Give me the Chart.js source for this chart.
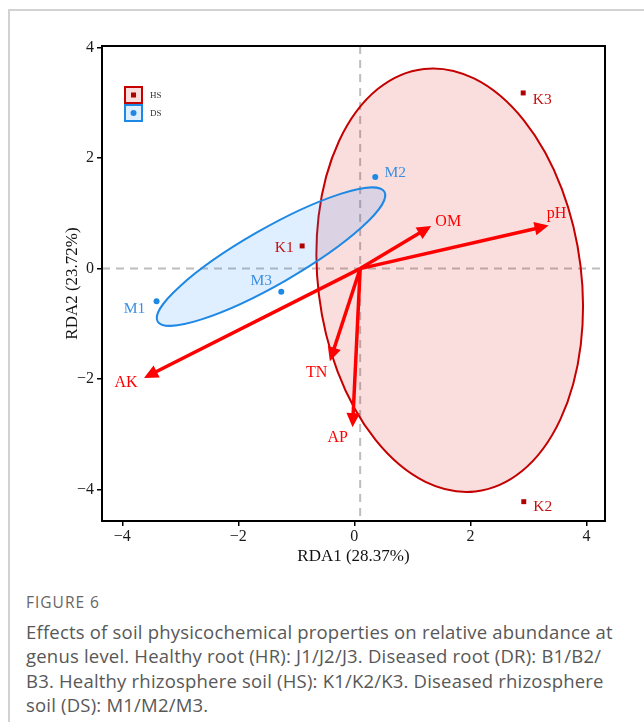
<!DOCTYPE html>
<html>
<head>
<meta charset="utf-8">
<script src="https://cdn.jsdelivr.net/npm/chart.js@4"></script>
<style>
  body { margin: 0; width: 644px; height: 722px; background: #fff; position: relative; overflow: hidden; }
  .frame { position: absolute; left: 8px; top: 9px; right: -4px; bottom: -4px; border-top: 2px solid #d2d2d2; border-left: 2px solid #d2d2d2; }
  #chart { position: absolute; left: 0; top: 0; }
  .fig { position: absolute; left: 26px; top: 592px; font-family: 'Open Sans', sans-serif; font-size: 15.5px; letter-spacing: 1px; line-height: 20px; color: #666; }
  .caption { position: absolute; left: 26px; top: 620px; font-family: 'Open Sans', sans-serif; font-size: 18.5px; letter-spacing: 0.2px; line-height: 24.3px; color: #585858; white-space: nowrap; }
</style>
</head>
<body>
<div class="frame"></div>
<canvas id="chart" width="644" height="580"></canvas>
<div class="fig">FIGURE 6</div>
<div class="caption">Effects of soil physicochemical properties on relative abundance at<br>genus level. Healthy root (HR): J1/J2/J3. Diseased root (DR): B1/B2/<br>B3. Healthy rhizosphere soil (HS): K1/K2/K3. Diseased rhizosphere<br>soil (DS): M1/M2/M3.</div>
<script>
// samples
const hsLabels = ['K1', 'K2', 'K3'];
const hsX = [-0.90, 2.92, 2.91];
const hsY = [0.41, -4.22, 3.18];
const dsLabels = ['M1', 'M2', 'M3'];
const dsX = [-3.41, 0.36, -1.26];
const dsY = [-0.59, 1.66, -0.42];

// environmental vectors
const envNames = ['OM', 'pH', 'TN', 'AP', 'AK'];
const envX = [1.29, 3.31, -0.41, -0.03, -3.59];
const envY = [0.75, 0.77, -1.64, -2.83, -1.96];
const origin = [0.1, 0];

// group ellipses (semi-axes and rotation in data units), HS then DS
const ellipseA = [3.85, 2.28];
const ellipseB = [2.27, 0.50];
const ellipseAngle = [96.6, 31.1];

const xTicks = [-4, -2, 0, 2, 4];
const yTicks = [-4, -2, 0, 2, 4];

const serif = "'Liberation Serif', 'Times New Roman', serif";
const red = '#C40000';
const blue = '#1E88E5';
const arrowRed = '#FF0000';

// label nudges in pixels
const hsNudge = [[-18, 2], [19, 5], [19, 7]];
const dsNudge = [[-22, 8], [20, -4], [-20, -11]];
const envNudge = [[19, -5], [10, -12], [-14, 14], [-15, 13], [-20, 6]];

const fmt = v => (v < 0 ? '\u2212' + Math.abs(v) : String(v));
const mean = a => a.reduce((s, v) => s + v, 0) / a.length;

function arrow(ctx, x0, y0, x1, y1) {
  const ang = Math.atan2(y1 - y0, x1 - x0);
  const head = 12, spread = Math.PI / 7;
  ctx.beginPath();
  ctx.moveTo(x0, y0);
  ctx.lineTo(x1 - Math.cos(ang) * head * 0.7, y1 - Math.sin(ang) * head * 0.7);
  ctx.stroke();
  ctx.beginPath();
  ctx.moveTo(x1, y1);
  ctx.lineTo(x1 - head * Math.cos(ang - spread), y1 - head * Math.sin(ang - spread));
  ctx.lineTo(x1 - head * Math.cos(ang + spread), y1 - head * Math.sin(ang + spread));
  ctx.closePath();
  ctx.fill();
  ctx.lineWidth = 2;
  ctx.stroke();
}

const rdaPlugin = {
  id: 'rda',
  beforeDatasetsDraw(chart) {
    const { ctx, chartArea: a, scales: { x, y } } = chart;
    const kx = x.getPixelForValue(1) - x.getPixelForValue(0);
    const ky = y.getPixelForValue(0) - y.getPixelForValue(1);
    ctx.save();

    // reference lines
    ctx.strokeStyle = '#BDBDBD';
    ctx.lineWidth = 2;
    ctx.setLineDash([8, 6]);
    const ox = x.getPixelForValue(origin[0]);
    const oy = y.getPixelForValue(origin[1]);
    ctx.beginPath();
    ctx.moveTo(ox, a.top); ctx.lineTo(ox, a.bottom);
    ctx.moveTo(a.left, oy); ctx.lineTo(a.right, oy);
    ctx.stroke();
    ctx.setLineDash([]);

    // ellipses around group centroids
    const groups = [
      { xs: hsX, ys: hsY, stroke: red, fill: 'rgba(214, 0, 0, 0.13)' },
      { xs: dsX, ys: dsY, stroke: blue, fill: 'rgba(30, 144, 255, 0.14)' },
    ];
    groups.forEach((g, i) => {
      ctx.save();
      ctx.translate(x.getPixelForValue(mean(g.xs)), y.getPixelForValue(mean(g.ys)));
      ctx.scale(kx, -ky);
      ctx.rotate((ellipseAngle[i] * Math.PI) / 180);
      ctx.scale(ellipseA[i], ellipseB[i]);
      ctx.beginPath();
      ctx.arc(0, 0, 1, 0, Math.PI * 2);
      ctx.restore();
      ctx.fillStyle = g.fill;
      ctx.fill();
      ctx.strokeStyle = g.stroke;
      ctx.lineWidth = 2;
      ctx.stroke();
    });

    // environmental arrows
    ctx.strokeStyle = arrowRed;
    ctx.fillStyle = arrowRed;
    ctx.lineJoin = 'miter';
    ctx.font = '16px ' + serif;
    ctx.textAlign = 'center';
    ctx.textBaseline = 'middle';
    envNames.forEach((n, i) => {
      const tx = x.getPixelForValue(envX[i]);
      const ty = y.getPixelForValue(envY[i]);
      ctx.lineWidth = 3.5;
      arrow(ctx, ox, oy, tx, ty);
      ctx.fillText(n, tx + envNudge[i][0], ty + envNudge[i][1]);
    });
    ctx.restore();
  },
  afterDatasetsDraw(chart) {
    const { ctx, chartArea: a, scales: { x, y } } = chart;
    ctx.save();
    ctx.font = '15.5px ' + serif;
    ctx.textAlign = 'center';
    ctx.textBaseline = 'middle';
    ctx.fillStyle = '#C41010';
    hsLabels.forEach((l, i) => {
      ctx.fillText(l, x.getPixelForValue(hsX[i]) + hsNudge[i][0], y.getPixelForValue(hsY[i]) + hsNudge[i][1]);
    });
    ctx.fillStyle = '#3B8FE0';
    dsLabels.forEach((l, i) => {
      ctx.fillText(l, x.getPixelForValue(dsX[i]) + dsNudge[i][0], y.getPixelForValue(dsY[i]) + dsNudge[i][1]);
    });

    // legend keys
    const lx = a.left + 23, ly = a.top + 41;
    const keys = [
      { text: 'HS', stroke: red, fill: 'rgba(214, 0, 0, 0.13)', mark: 'rect', color: '#B00000' },
      { text: 'DS', stroke: blue, fill: 'rgba(30, 144, 255, 0.14)', mark: 'circle', color: blue },
    ];
    keys.forEach((k, i) => {
      const top = ly + i * 18;
      ctx.fillStyle = k.fill;
      ctx.fillRect(lx, top, 17, 16);
      ctx.strokeStyle = k.stroke;
      ctx.lineWidth = 2;
      ctx.strokeRect(lx, top, 17, 16);
      ctx.fillStyle = k.color;
      if (k.mark === 'rect') ctx.fillRect(lx + 6, top + 5.5, 5, 5);
      else { ctx.beginPath(); ctx.arc(lx + 8.5, top + 8, 3, 0, Math.PI * 2); ctx.fill(); }
      ctx.fillStyle = '#333';
      ctx.font = '9px ' + serif;
      ctx.textAlign = 'left';
      ctx.fillText(k.text, lx + 25, top + 8.5);
    });

    // panel box
    ctx.strokeStyle = '#000';
    ctx.lineWidth = 2;
    ctx.strokeRect(a.left, a.top, a.right - a.left, a.bottom - a.top);
    ctx.restore();
  },
};

window.onload = () => {
  new Chart(document.getElementById('chart'), {
    type: 'scatter',
    data: {
      datasets: [
        {
          label: 'HS',
          data: hsX.map((v, i) => ({ x: v, y: hsY[i] })),
          pointStyle: 'rect',
          pointRadius: 3.5,
          borderWidth: 0,
          backgroundColor: '#B00000',
        },
        {
          label: 'DS',
          data: dsX.map((v, i) => ({ x: v, y: dsY[i] })),
          pointStyle: 'circle',
          pointRadius: 3,
          borderWidth: 0,
          backgroundColor: blue,
        },
      ],
    },
    options: {
      responsive: false,
      devicePixelRatio: 1,
      animation: false,
      layout: { padding: { top: 46, right: 39, left: 50, bottom: 0 } },
      plugins: { legend: { display: false }, tooltip: { enabled: false } },
      scales: {
        x: {
          type: 'linear',
          min: -4.35,
          max: 4.32,
          afterBuildTicks: s => (s.ticks = xTicks.map(v => ({ value: v }))),
          afterFit: s => (s.height = 59),
          grid: { drawOnChartArea: false, drawTicks: true, tickLength: 5, color: '#000', lineWidth: 1.5 },
          border: { display: true, color: '#000', width: 2 },
          ticks: { font: { family: serif, size: 16 }, color: '#1a1a1a', padding: 1, callback: fmt },
          title: {
            display: true,
            text: 'RDA1 (28.37%)',
            font: { family: serif, size: 17 },
            color: '#111',
            padding: { top: 0, bottom: 13 },
          },
        },
        y: {
          type: 'linear',
          min: -4.57,
          max: 4.03,
          afterBuildTicks: s => (s.ticks = yTicks.map(v => ({ value: v }))),
          afterFit: s => (s.width = 52),
          grid: { drawOnChartArea: false, drawTicks: true, tickLength: 5, color: '#000', lineWidth: 1.5 },
          border: { display: true, color: '#000', width: 2 },
          ticks: { font: { family: serif, size: 16 }, color: '#1a1a1a', padding: 3, callback: fmt },
          title: {
            display: true,
            text: 'RDA2 (23.72%)',
            font: { family: serif, size: 17 },
            color: '#111',
            padding: { top: 12, bottom: 0 },
          },
        },
      },
    },
    plugins: [rdaPlugin],
  });
};
</script>
</body>
</html>
